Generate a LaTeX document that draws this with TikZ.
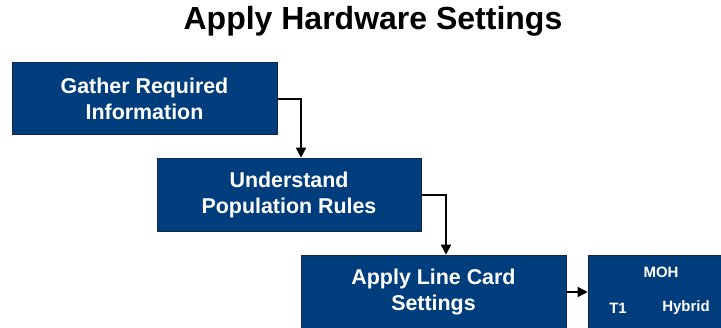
\documentclass[tikz,border=0pt]{standalone}
\usepackage{fontspec}
\setmainfont{Liberation Sans}
\usetikzlibrary{arrows.meta}
\definecolor{boxblue}{RGB}{0,61,125}
\definecolor{boxedge}{RGB}{20,40,70}
\begin{document}
\begin{tikzpicture}[x=1pt,y=-1pt,
  stepbox/.style={draw=boxedge,line width=0.6pt,fill=boxblue,text=white,font=\bfseries\fontsize{21.4}{26}\selectfont,align=center,inner sep=0pt},
  small/.style={text=white,font=\bfseries\fontsize{15}{18}\selectfont},
  conn/.style={draw=black,line width=1.6pt,-{Triangle[length=10pt,width=10pt]}}]
\useasboundingbox (0,0) rectangle (721,327);
\node[font=\bfseries\fontsize{32}{38}\selectfont] (title) at (373,21) {Apply Hardware Settings};
\node[stepbox,minimum width=265pt,minimum height=72pt] (g) at (144.5,98.5) {Gather Required\\Information};
\node[stepbox,minimum width=264pt,minimum height=73pt] (u) at (289,194.5) {Understand\\Population Rules};
\node[stepbox,minimum width=265pt,minimum height=74pt] (a) at (433.5,292) {Apply Line Card\\Settings};
\node[stepbox,minimum width=136pt,minimum height=74pt] (m) at (656,292) {};
\node[small] (moh) at (661,272) {MOH};
\node[small] (t1) at (618,308) {T1};
\node[small] (hy) at (686,308) {Hybrid};
\draw[conn] (g.east |- 0,99) -| (u.north -| 301,0);
\draw[conn] (u.east |- 0,195) -| (a.north -| 446,0);
\draw[conn] (a.east |- 0,292) -- (m.west |- 0,292);
\end{tikzpicture}
\end{document}
